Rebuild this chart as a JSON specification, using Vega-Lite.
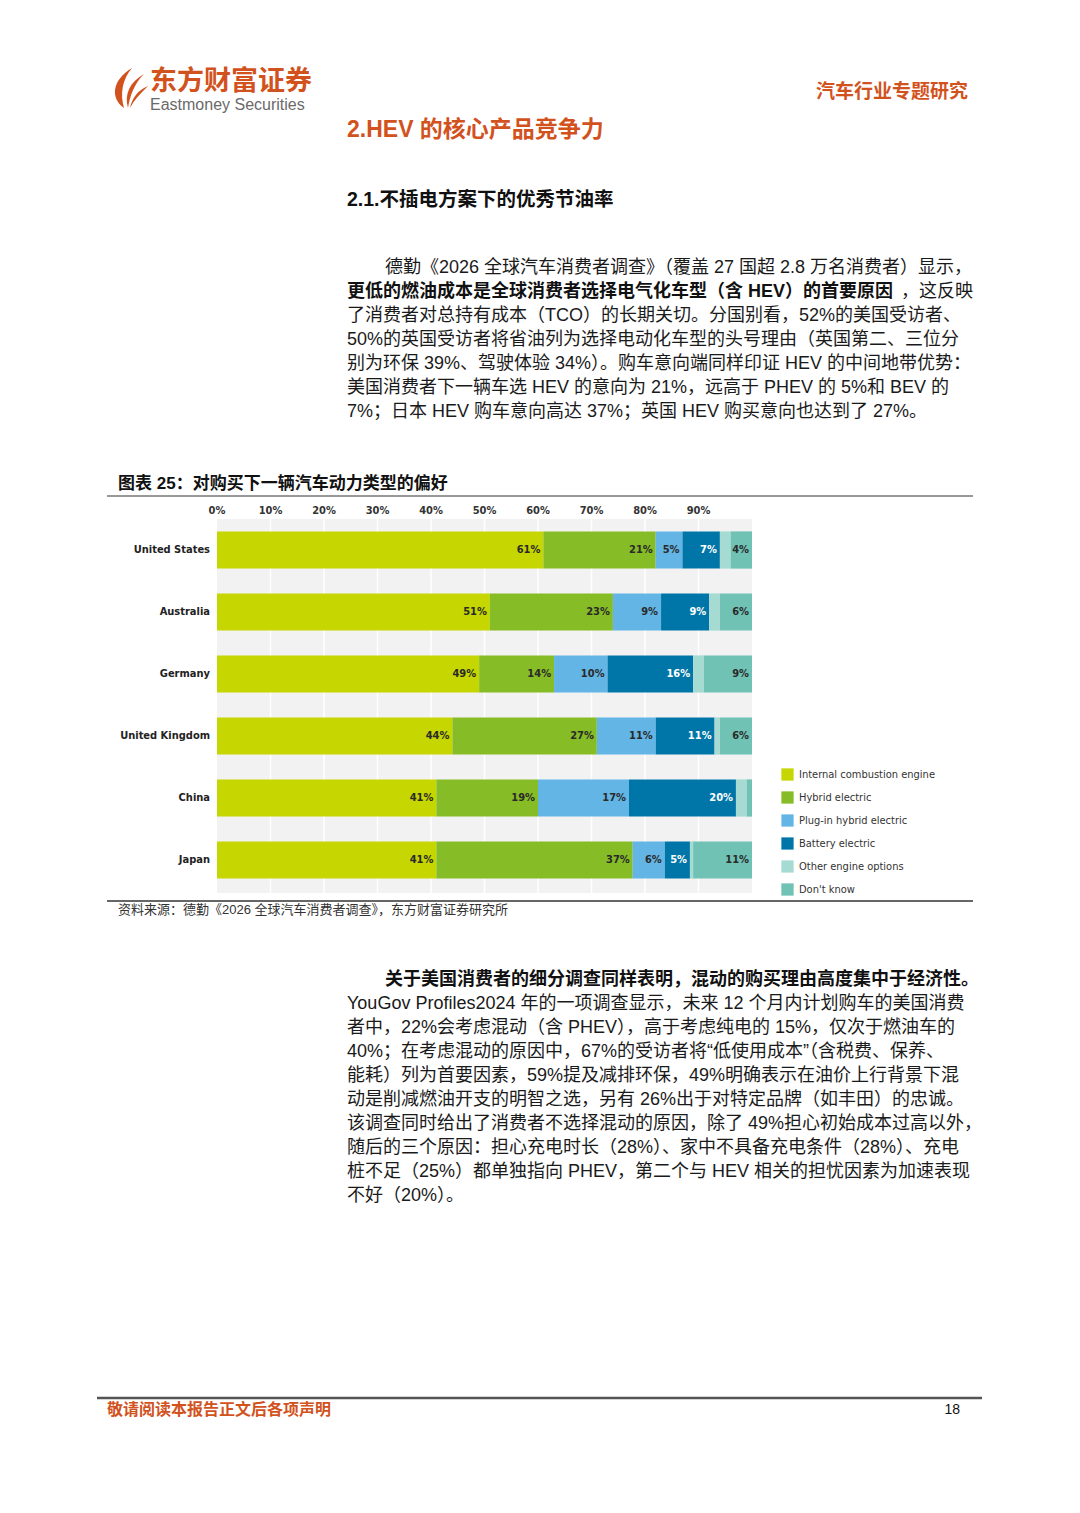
{
  "$schema": "https://vega.github.io/schema/vega-lite/v6.json",
  "width": 1080,
  "height": 1513,
  "autosize": {"type": "fit", "contains": "padding"},
  "padding": 0,
  "background": "#ffffff",
  "config": {
    "view": {"stroke": null},
    "text": {"font": "Liberation Sans, Noto Sans CJK SC", "baseline": "middle", "align": "left"}
  },
  "datasets": {
    "bars": [
      {"country": "United States", "type": "Internal combustion engine", "k": 0, "value": 61, "label": "61%"},
      {"country": "United States", "type": "Hybrid electric", "k": 1, "value": 21, "label": "21%"},
      {"country": "United States", "type": "Plug-in hybrid electric", "k": 2, "value": 5, "label": "5%"},
      {"country": "United States", "type": "Battery electric", "k": 3, "value": 7, "label": "7%"},
      {"country": "United States", "type": "Other engine options", "k": 4, "value": 2, "label": ""},
      {"country": "United States", "type": "Don't know", "k": 5, "value": 4, "label": "4%"},
      {"country": "Australia", "type": "Internal combustion engine", "k": 0, "value": 51, "label": "51%"},
      {"country": "Australia", "type": "Hybrid electric", "k": 1, "value": 23, "label": "23%"},
      {"country": "Australia", "type": "Plug-in hybrid electric", "k": 2, "value": 9, "label": "9%"},
      {"country": "Australia", "type": "Battery electric", "k": 3, "value": 9, "label": "9%"},
      {"country": "Australia", "type": "Other engine options", "k": 4, "value": 2, "label": ""},
      {"country": "Australia", "type": "Don't know", "k": 5, "value": 6, "label": "6%"},
      {"country": "Germany", "type": "Internal combustion engine", "k": 0, "value": 49, "label": "49%"},
      {"country": "Germany", "type": "Hybrid electric", "k": 1, "value": 14, "label": "14%"},
      {"country": "Germany", "type": "Plug-in hybrid electric", "k": 2, "value": 10, "label": "10%"},
      {"country": "Germany", "type": "Battery electric", "k": 3, "value": 16, "label": "16%"},
      {"country": "Germany", "type": "Other engine options", "k": 4, "value": 2, "label": ""},
      {"country": "Germany", "type": "Don't know", "k": 5, "value": 9, "label": "9%"},
      {"country": "United Kingdom", "type": "Internal combustion engine", "k": 0, "value": 44, "label": "44%"},
      {"country": "United Kingdom", "type": "Hybrid electric", "k": 1, "value": 27, "label": "27%"},
      {"country": "United Kingdom", "type": "Plug-in hybrid electric", "k": 2, "value": 11, "label": "11%"},
      {"country": "United Kingdom", "type": "Battery electric", "k": 3, "value": 11, "label": "11%"},
      {"country": "United Kingdom", "type": "Other engine options", "k": 4, "value": 1, "label": ""},
      {"country": "United Kingdom", "type": "Don't know", "k": 5, "value": 6, "label": "6%"},
      {"country": "China", "type": "Internal combustion engine", "k": 0, "value": 41, "label": "41%"},
      {"country": "China", "type": "Hybrid electric", "k": 1, "value": 19, "label": "19%"},
      {"country": "China", "type": "Plug-in hybrid electric", "k": 2, "value": 17, "label": "17%"},
      {"country": "China", "type": "Battery electric", "k": 3, "value": 20, "label": "20%"},
      {"country": "China", "type": "Other engine options", "k": 4, "value": 2, "label": ""},
      {"country": "China", "type": "Don't know", "k": 5, "value": 1, "label": ""},
      {"country": "Japan", "type": "Internal combustion engine", "k": 0, "value": 41, "label": "41%"},
      {"country": "Japan", "type": "Hybrid electric", "k": 1, "value": 36.7, "label": "37%"},
      {"country": "Japan", "type": "Plug-in hybrid electric", "k": 2, "value": 6, "label": "6%"},
      {"country": "Japan", "type": "Battery electric", "k": 3, "value": 4.7, "label": "5%"},
      {"country": "Japan", "type": "Other engine options", "k": 4, "value": 0.6, "label": ""},
      {"country": "Japan", "type": "Don't know", "k": 5, "value": 11, "label": "11%"}
    ],
    "ticks": [
      {"t": 0, "label": "0%"}, {"t": 10, "label": "10%"}, {"t": 20, "label": "20%"},
      {"t": 30, "label": "30%"}, {"t": 40, "label": "40%"}, {"t": 50, "label": "50%"},
      {"t": 60, "label": "60%"}, {"t": 70, "label": "70%"}, {"t": 80, "label": "80%"},
      {"t": 90, "label": "90%"}
    ],
    "p1": [
      {"i": 0, "bold": false, "text": "德勤《2026 全球汽车消费者调查》（覆盖 27 国超 2.8 万名消费者）显示，"},
      {"i": 1, "bold": true, "text": "更低的燃油成本是全球消费者选择电气化车型（含 HEV）的首要原因"},
      {"i": 2, "bold": false, "text": "了消费者对总持有成本（TCO）的长期关切。分国别看，52%的美国受访者、"},
      {"i": 3, "bold": false, "text": "50%的英国受访者将省油列为选择电动化车型的头号理由（英国第二、三位分"},
      {"i": 4, "bold": false, "text": "别为环保 39%、驾驶体验 34%）。购车意向端同样印证 HEV 的中间地带优势："},
      {"i": 5, "bold": false, "text": "美国消费者下一辆车选 HEV 的意向为 21%，远高于 PHEV 的 5%和 BEV 的"},
      {"i": 6, "bold": false, "text": "7%；日本 HEV 购车意向高达 37%；英国 HEV 购买意向也达到了 27%。"}
    ],
    "p2": [
      {"i": 0, "text": "关于美国消费者的细分调查同样表明，混动的购买理由高度集中于经济性。"},
      {"i": 1, "text": "YouGov Profiles2024 年的一项调查显示，未来 12 个月内计划购车的美国消费"},
      {"i": 2, "text": "者中，22%会考虑混动（含 PHEV），高于考虑纯电的 15%，仅次于燃油车的"},
      {"i": 3, "text": "40%；在考虑混动的原因中，67%的受访者将“低使用成本”（含税费、保养、"},
      {"i": 4, "text": "能耗）列为首要因素，59%提及减排环保，49%明确表示在油价上行背景下混"},
      {"i": 5, "text": "动是削减燃油开支的明智之选，另有 26%出于对特定品牌（如丰田）的忠诚。"},
      {"i": 6, "text": "该调查同时给出了消费者不选择混动的原因，除了 49%担心初始成本过高以外，"},
      {"i": 7, "text": "随后的三个原因：担心充电时长（28%）、家中不具备充电条件（28%）、充电"},
      {"i": 8, "text": "桩不足（25%）都单独指向 PHEV，第二个与 HEV 相关的担忧因素为加速表现"},
      {"i": 9, "text": "不好（20%）。"}
    ]
  },
  "layer": [
    {
      "data": {"values": [{}]},
      "mark": {
        "type": "point",
        "shape": "M -0.2 1 C -0.9 0.5 -0.8 -0.4 0.2 -1 C -0.3 -0.4 -0.4 0.3 -0.2 1 Z M 0 1 C -0.2 0.3 0.1 -0.3 0.8 -0.7 C 0.3 -0.2 0.1 0.4 0 1 Z M 0.1 1 C 0.2 0.5 0.5 0.1 1 -0.1 C 0.6 0.3 0.3 0.6 0.1 1 Z",
        "filled": true,
        "color": "#d2521e",
        "opacity": 1,
        "size": 1600
      },
      "encoding": {"x": {"value": 128}, "y": {"value": 88}}
    },
    {
      "data": {"values": [{}]},
      "mark": {"type": "text", "text": "东方财富证券", "fontSize": 27, "fontWeight": "bold", "color": "#d2521e"},
      "encoding": {"x": {"value": 150}, "y": {"value": 82}}
    },
    {
      "data": {"values": [{}]},
      "mark": {"type": "text", "text": "Eastmoney Securities", "fontSize": 16, "color": "#6a6a6a"},
      "encoding": {"x": {"value": 150}, "y": {"value": 105}}
    },
    {
      "data": {"values": [{}]},
      "mark": {"type": "text", "text": "汽车行业专题研究", "fontSize": 19, "fontWeight": "bold", "color": "#d2521e", "align": "right"},
      "encoding": {"x": {"value": 968}, "y": {"value": 92}}
    },
    {
      "data": {"values": [{}]},
      "mark": {"type": "text", "text": "2.HEV 的核心产品竞争力", "fontSize": 23, "fontWeight": "bold", "color": "#d2521e"},
      "encoding": {"x": {"value": 347}, "y": {"value": 130}}
    },
    {
      "data": {"values": [{}]},
      "mark": {"type": "text", "text": "2.1.不插电方案下的优秀节油率", "fontSize": 19.5, "fontWeight": "bold", "color": "#111111"},
      "encoding": {"x": {"value": 347}, "y": {"value": 200}}
    },
    {
      "data": {"name": "p1"},
      "transform": [{"filter": "!datum.bold && datum.i > 0"}],
      "mark": {"type": "text", "fontSize": 18, "color": "#1a1a1a"},
      "encoding": {
        "x": {"value": 347},
        "y": {"field": "i", "type": "quantitative", "scale": {"domain": [0, 6], "range": [268, 412]}, "axis": null},
        "text": {"field": "text"}
      }
    },
    {
      "data": {"name": "p1"},
      "transform": [{"filter": "datum.i === 0"}],
      "mark": {"type": "text", "fontSize": 18, "color": "#1a1a1a"},
      "encoding": {
        "x": {"value": 385},
        "y": {"field": "i", "type": "quantitative", "scale": {"domain": [0, 6], "range": [268, 412]}, "axis": null},
        "text": {"field": "text"}
      }
    },
    {
      "data": {"name": "p1"},
      "transform": [{"filter": "datum.bold"}],
      "mark": {"type": "text", "fontSize": 18, "fontWeight": "bold", "color": "#111111"},
      "encoding": {
        "x": {"value": 347},
        "y": {"field": "i", "type": "quantitative", "scale": {"domain": [0, 6], "range": [268, 412]}, "axis": null},
        "text": {"field": "text"}
      }
    },
    {
      "data": {"values": [{}]},
      "mark": {"type": "text", "text": "，这反映", "fontSize": 18, "color": "#1a1a1a", "align": "right"},
      "encoding": {"x": {"value": 973}, "y": {"value": 292}}
    },
    {
      "data": {"values": [{}]},
      "mark": {"type": "text", "text": "图表 25：对购买下一辆汽车动力类型的偏好", "fontSize": 17, "fontWeight": "bold", "color": "#111111"},
      "encoding": {"x": {"value": 118}, "y": {"value": 484}}
    },
    {
      "data": {"values": [{}]},
      "mark": {"type": "rule", "color": "#333333", "strokeWidth": 1},
      "encoding": {"x": {"value": 107}, "x2": {"value": 973}, "y": {"value": 496}}
    },
    {
      "layer": [
        {
          "data": {"values": [{}]},
          "mark": {"type": "rect", "color": "#f2f2f2"},
          "encoding": {
            "x": {"datum": 0, "type": "quantitative", "scale": {"domain": [0, 100], "range": [217, 752]}, "axis": null},
            "x2": {"datum": 100},
            "y": {"value": 519},
            "y2": {"value": 893}
          }
        },
        {
          "data": {"name": "ticks"},
          "transform": [{"filter": "datum.t > 0"}],
          "mark": {"type": "rule", "color": "#ffffff", "strokeWidth": 1.5},
          "encoding": {
            "x": {"field": "t", "type": "quantitative", "scale": {"domain": [0, 100], "range": [217, 752]}, "axis": null},
            "y": {"value": 519},
            "y2": {"value": 893}
          }
        },
        {
          "data": {"name": "ticks"},
          "mark": {"type": "text", "font": "Liberation Sans Narrow, DejaVu Sans Condensed, sans-serif", "fontSize": 11, "fontWeight": "bold", "color": "#333333", "align": "center"},
          "encoding": {
            "x": {"field": "t", "type": "quantitative", "scale": {"domain": [0, 100], "range": [217, 752]}, "axis": null},
            "y": {"value": 511},
            "text": {"field": "label"}
          }
        },
        {
          "data": {"name": "bars"},
          "transform": [
            {"stack": "value", "groupby": ["country"], "sort": [{"field": "k", "order": "ascending"}], "as": ["x0", "x1"]}
          ],
          "mark": {"type": "bar", "orient": "horizontal"},
          "encoding": {
            "x": {"field": "x0", "type": "quantitative", "scale": {"domain": [0, 100], "range": [217, 752]}, "axis": null},
            "x2": {"field": "x1"},
            "y": {
              "field": "country", "type": "nominal",
              "sort": ["United States", "Australia", "Germany", "United Kingdom", "China", "Japan"],
              "scale": {"domain": ["United States", "Australia", "Germany", "United Kingdom", "China", "Japan"], "range": [519, 891], "paddingInner": 0.4, "paddingOuter": 0.2},
              "axis": null
            },
            "color": {
              "field": "type", "type": "nominal",
              "scale": {
                "domain": ["Internal combustion engine", "Hybrid electric", "Plug-in hybrid electric", "Battery electric", "Other engine options", "Don't know"],
                "range": ["#c5d600", "#86bc25", "#62b5e5", "#0076a8", "#a6dbd4", "#6fc2b4"]
              },
              "legend": {
                "orient": "none", "legendX": 781, "legendY": 768, "title": null,
                "symbolType": "square", "symbolSize": 150, "symbolStrokeWidth": 0, "symbolOpacity": 1,
                "labelFont": "Liberation Sans Narrow, DejaVu Sans Condensed, sans-serif",
                "labelFontSize": 11, "labelColor": "#333333", "labelOffset": 5,
                "rowPadding": 10, "padding": 0, "labelLimit": 300
              }
            }
          }
        },
        {
          "data": {"name": "bars"},
          "transform": [
            {"stack": "value", "groupby": ["country"], "sort": [{"field": "k", "order": "ascending"}], "as": ["x0", "x1"]},
            {"filter": "datum.label !== ''"}
          ],
          "mark": {"type": "text", "font": "Liberation Sans Narrow, DejaVu Sans Condensed, sans-serif", "fontSize": 11, "fontWeight": "bold", "align": "right", "dx": -3},
          "encoding": {
            "x": {"field": "x1", "type": "quantitative", "scale": {"domain": [0, 100], "range": [217, 752]}, "axis": null},
            "y": {
              "field": "country", "type": "nominal",
              "sort": ["United States", "Australia", "Germany", "United Kingdom", "China", "Japan"],
              "scale": {"domain": ["United States", "Australia", "Germany", "United Kingdom", "China", "Japan"], "range": [519, 891], "paddingInner": 0.4, "paddingOuter": 0.2},
              "axis": null
            },
            "text": {"field": "label"},
            "color": {"condition": {"test": "datum.type === 'Battery electric'", "value": "#ffffff"}, "value": "#2a2a2a"}
          }
        },
        {
          "data": {"name": "bars"},
          "transform": [{"filter": "datum.k === 0"}],
          "mark": {"type": "text", "font": "Liberation Sans Narrow, DejaVu Sans Condensed, sans-serif", "fontSize": 11, "fontWeight": "bold", "color": "#222222", "align": "right"},
          "encoding": {
            "x": {"value": 210},
            "y": {
              "field": "country", "type": "nominal",
              "sort": ["United States", "Australia", "Germany", "United Kingdom", "China", "Japan"],
              "scale": {"domain": ["United States", "Australia", "Germany", "United Kingdom", "China", "Japan"], "range": [519, 891], "paddingInner": 0.4, "paddingOuter": 0.2},
              "axis": null
            },
            "text": {"field": "country"}
          }
        }
      ]
    },
    {
      "data": {"values": [{}]},
      "mark": {"type": "rule", "color": "#333333", "strokeWidth": 1.5},
      "encoding": {"x": {"value": 107}, "x2": {"value": 973}, "y": {"value": 901}}
    },
    {
      "data": {"values": [{}]},
      "mark": {"type": "text", "text": "资料来源：德勤《2026 全球汽车消费者调查》，东方财富证券研究所", "fontSize": 13, "color": "#333333"},
      "encoding": {"x": {"value": 118}, "y": {"value": 910}}
    },
    {
      "data": {"name": "p2"},
      "transform": [{"filter": "datum.i > 0"}],
      "mark": {"type": "text", "fontSize": 18, "color": "#1a1a1a"},
      "encoding": {
        "x": {"value": 347},
        "y": {"field": "i", "type": "quantitative", "scale": {"domain": [0, 9], "range": [980, 1196]}, "axis": null},
        "text": {"field": "text"}
      }
    },
    {
      "data": {"name": "p2"},
      "transform": [{"filter": "datum.i === 0"}],
      "mark": {"type": "text", "fontSize": 18, "fontWeight": "bold", "color": "#111111"},
      "encoding": {
        "x": {"value": 385},
        "y": {"field": "i", "type": "quantitative", "scale": {"domain": [0, 9], "range": [980, 1196]}, "axis": null},
        "text": {"field": "text"}
      }
    },
    {
      "data": {"values": [{}]},
      "mark": {"type": "rule", "color": "#555555", "strokeWidth": 2.5},
      "encoding": {"x": {"value": 97}, "x2": {"value": 982}, "y": {"value": 1398}}
    },
    {
      "data": {"values": [{}]},
      "mark": {"type": "text", "text": "敬请阅读本报告正文后各项声明", "fontSize": 16, "fontWeight": "bold", "color": "#d2521e"},
      "encoding": {"x": {"value": 107}, "y": {"value": 1410}}
    },
    {
      "data": {"values": [{}]},
      "mark": {"type": "text", "text": "18", "fontSize": 14, "color": "#111111", "align": "right"},
      "encoding": {"x": {"value": 960}, "y": {"value": 1410}}
    }
  ],
  "resolve": {"scale": {"x": "independent", "y": "independent", "color": "independent"}}
}
